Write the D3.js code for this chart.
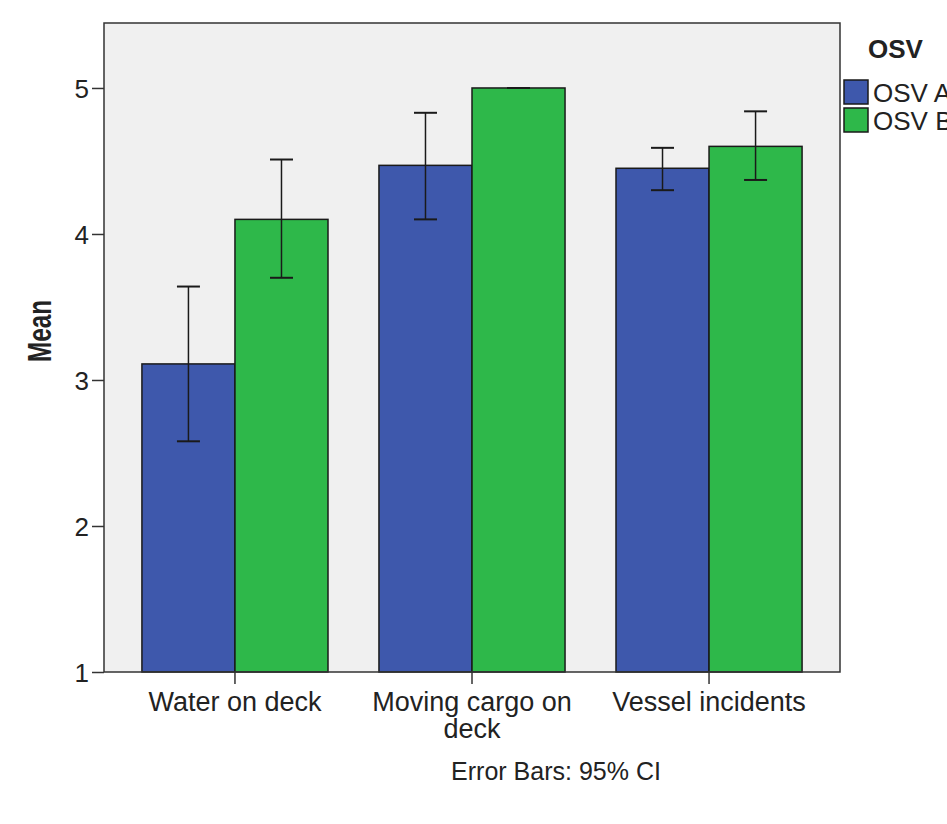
<!DOCTYPE html>
<html>
<head>
<meta charset="utf-8">
<script src="https://cdn.jsdelivr.net/npm/d3@7"></script>
<style>
  body { margin: 0; background: #fff; }
  text { font-family: "Liberation Sans", Arial, sans-serif; fill: #222; }
</style>
</head>
<body>
<script>
var categories = ["Water on deck", "Moving cargo on deck", "Vessel incidents"];
var categoryLines = [["Water on deck"], ["Moving cargo on", "deck"], ["Vessel incidents"]];
var seriesNames = ["OSV A", "OSV B"];
var osvA = [3.11, 4.47, 4.45];
var osvALow = [2.58, 4.10, 4.30];
var osvAHigh = [3.64, 4.83, 4.59];
var osvB = [4.10, 5.00, 4.60];
var osvBLow = [3.70, 5.00, 4.37];
var osvBHigh = [4.51, 5.00, 4.84];
var yTicks = [1, 2, 3, 4, 5];
var colors = ["#3e58ac", "#2eb84a"];

var width = 947,
    height = 824,
    plotL = 104, plotR = 840, plotT = 23, plotB = 672;

var svg = d3.select("body").append("svg")
    .attr("width", width)
    .attr("height", height);

var x = d3.scaleBand()
    .domain(categories)
    .range([plotL, plotR])
    .paddingInner(0.215)
    .paddingOuter(0.16);

var xs = d3.scaleBand()
    .domain(seriesNames)
    .range([0, x.bandwidth()]);

var y = d3.scaleLinear()
    .domain([1, 5.445])
    .range([plotB, plotT]);

var color = d3.scaleOrdinal().domain(seriesNames).range(colors);

// plot background
svg.append("rect")
    .attr("x", plotL).attr("y", plotT)
    .attr("width", plotR - plotL).attr("height", plotB - plotT)
    .attr("fill", "#f0f0f0");

// build rows
var rows = [];
categories.forEach(function(c, i) {
    rows.push({cat: c, s: "OSV A", v: osvA[i], lo: osvALow[i], hi: osvAHigh[i]});
    rows.push({cat: c, s: "OSV B", v: osvB[i], lo: osvBLow[i], hi: osvBHigh[i]});
});

svg.selectAll(".bar")
    .data(rows)
    .enter().append("rect")
    .attr("class", "bar")
    .attr("x", function(d) { return x(d.cat) + xs(d.s); })
    .attr("y", function(d) { return y(d.v); })
    .attr("width", xs.bandwidth())
    .attr("height", function(d) { return y(1) - y(d.v); })
    .attr("fill", function(d) { return color(d.s); })
    .attr("stroke", "#1a1a1a")
    .attr("stroke-width", 1.5);

// error bars
var err = svg.selectAll(".err")
    .data(rows)
    .enter().append("g")
    .attr("class", "err")
    .attr("stroke", "#1a1a1a")
    .attr("stroke-width", 1.5);

var cx = function(d) { return x(d.cat) + xs(d.s) + xs.bandwidth() / 2; };
var cap = 11.5;

err.append("line")
    .attr("x1", cx).attr("x2", cx)
    .attr("y1", function(d) { return y(d.lo); })
    .attr("y2", function(d) { return y(d.hi); });
err.append("line")
    .attr("x1", function(d) { return cx(d) - cap; })
    .attr("x2", function(d) { return cx(d) + cap; })
    .attr("y1", function(d) { return y(d.hi); })
    .attr("y2", function(d) { return y(d.hi); })
    .attr("stroke-width", 2);
err.append("line")
    .attr("x1", function(d) { return cx(d) - cap; })
    .attr("x2", function(d) { return cx(d) + cap; })
    .attr("y1", function(d) { return y(d.lo); })
    .attr("y2", function(d) { return y(d.lo); })
    .attr("stroke-width", 2);

// frame
svg.append("rect")
    .attr("x", plotL).attr("y", plotT)
    .attr("width", plotR - plotL).attr("height", plotB - plotT)
    .attr("fill", "none")
    .attr("stroke", "#333")
    .attr("stroke-width", 1.5);

// y axis
var yAxis = svg.append("g")
    .attr("transform", "translate(" + plotL + ",0)")
    .call(d3.axisLeft(y).tickValues(yTicks).tickSize(12).tickPadding(3).tickFormat(d3.format("d")));
yAxis.select(".domain").remove();
yAxis.selectAll("line").attr("stroke", "#333").attr("stroke-width", 1.5);
yAxis.selectAll("text")
    .style("font-size", "26px")
    .style("font-family", "'Liberation Sans', Arial, sans-serif")
    .attr("fill", "#333")
    .attr("dy", "0.36em");

// x axis
var xAxis = svg.append("g")
    .attr("transform", "translate(0," + plotB + ")")
    .call(d3.axisBottom(x).tickSize(12).tickFormat(""));
xAxis.select(".domain").remove();
xAxis.selectAll("line").attr("stroke", "#333").attr("stroke-width", 1.5);

categories.forEach(function(c, i) {
    var t = svg.append("text")
        .attr("text-anchor", "middle")
        .attr("x", x(c) + x.bandwidth() / 2)
        .attr("y", 711)
        .style("font-size", "27px")
        .attr("fill", "#333");
    categoryLines[i].forEach(function(line, j) {
        t.append("tspan")
            .attr("x", x(c) + x.bandwidth() / 2)
            .attr("dy", j === 0 ? 0 : 27)
            .text(line);
    });
});

// y title
svg.append("text")
    .attr("transform", "translate(51,331) rotate(-90)")
    .attr("text-anchor", "middle")
    .attr("textLength", 62)
    .attr("lengthAdjust", "spacingAndGlyphs")
    .style("font-size", "33px")
    .style("font-weight", "bold")
    .attr("fill", "#111")
    .text("Mean");

// footnote
svg.append("text")
    .attr("x", 556)
    .attr("y", 780)
    .attr("text-anchor", "middle")
    .style("font-size", "25px")
    .attr("fill", "#333")
    .text("Error Bars: 95% CI");

// legend
svg.append("text")
    .attr("x", 868).attr("y", 58)
    .style("font-size", "26px")
    .style("font-weight", "bold")
    .attr("fill", "#111")
    .text("OSV");

var leg = svg.selectAll(".leg")
    .data(seriesNames)
    .enter().append("g")
    .attr("class", "leg")
    .attr("transform", function(d, i) { return "translate(844," + (80 + i * 28) + ")"; });
leg.append("rect")
    .attr("width", 24).attr("height", 24)
    .attr("fill", function(d) { return color(d); })
    .attr("stroke", "#1a1a1a")
    .attr("stroke-width", 1.5);
leg.append("text")
    .attr("x", 29).attr("y", 22)
    .style("font-size", "26px")
    .attr("fill", "#333")
    .text(function(d) { return d; });
</script>
</body>
</html>
